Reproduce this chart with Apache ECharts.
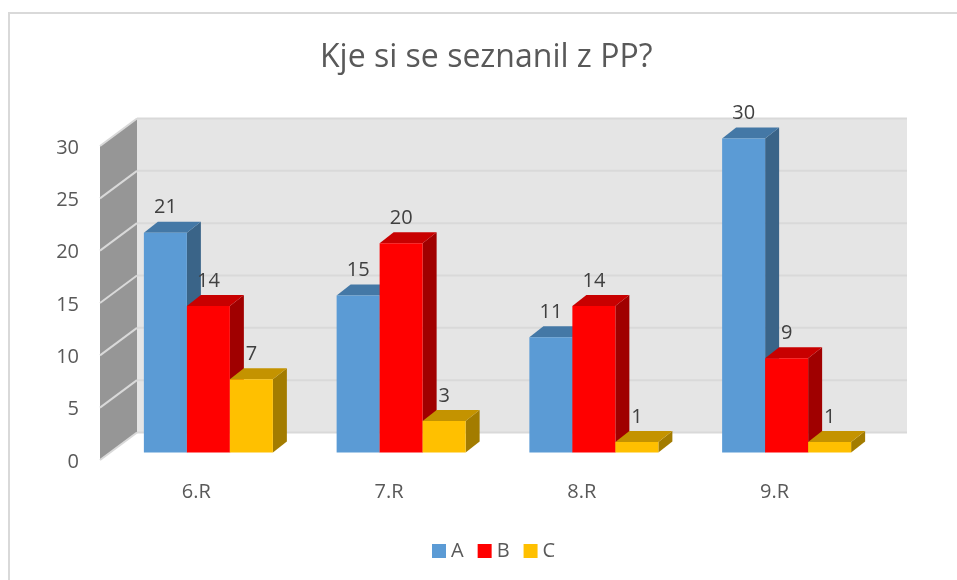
<!DOCTYPE html>
<html>
<head>
<meta charset="utf-8">
<style>html,body{margin:0;padding:0;background:#fff}#c{width:957px;height:580px}</style>
<script src="https://cdn.jsdelivr.net/npm/echarts@6/dist/echarts.min.js"></script>
</head>
<body>
<div id="c"></div>
<script>
const titleText = 'Kje si se seznanil z PP?';
const categories = ['6.R', '7.R', '8.R', '9.R'];
const seriesA = [21, 15, 11, 30];
const seriesB = [14, 20, 14, 9];
const seriesC = [7, 3, 1, 1];
const ticks = [0, 5, 10, 15, 20, 25, 30];

const FONT = '"Open Sans", sans-serif';
const wallDx = 37, wallDy = -27.5;
const barW = 43, barDx = 14, barDy = -11, barShiftX = 12, barShiftY = -7.5;

function wallItem(params, api) {
  const v = api.value(1);
  const cs = params.coordSys;
  const p = api.coord([0, v]);
  const left = cs.x, y = p[1];
  const right = cs.x + cs.width;
  const backL = left + wallDx, backY = y + wallDy, backR = right + wallDx - 1;
  const children = [];
  if (params.dataIndex === 0) {
    const topY = api.coord([0, ticks[ticks.length - 1]])[1];
    children.push({ type: 'rect', shape: { x: backL, y: topY + wallDy, width: backR - backL, height: y - topY },
      style: { fill: '#E5E5E5' } });
    children.push({ type: 'polygon', shape: { points: [[left, y], [backL, backY], [backL, topY + wallDy], [left, topY]] },
      style: { fill: '#969696' } });
  }
  children.push({ type: 'line', shape: { x1: backL, y1: backY, x2: backR, y2: backY },
    style: { stroke: '#D9D9D9', lineWidth: 2 } });
  children.push({ type: 'line', shape: { x1: left, y1: y, x2: backL, y2: backY },
    style: { stroke: '#D9D9D9', lineWidth: 2 } });
  return { type: 'group', children };
}

function barRender(offset, front, top, side) {
  return function (params, api) {
    const c = api.coord([api.value(0), api.value(1)]);
    const b = api.coord([api.value(0), 0]);
    const x0 = c[0] + barShiftX + (offset - 1.5) * barW;
    const x1 = x0 + barW;
    const yT = c[1] + barShiftY, yB = b[1] + barShiftY;
    return {
      type: 'group',
      children: [
        { type: 'polygon', shape: { points: [[x1, yT], [x1 + barDx, yT + barDy], [x1 + barDx, yB + barDy], [x1, yB]] }, style: { fill: side } },
        { type: 'polygon', shape: { points: [[x0, yT], [x0 + barDx, yT + barDy], [x1 + barDx, yT + barDy], [x1, yT]] }, style: { fill: top } },
        { type: 'rect', shape: { x: x0, y: yT, width: barW, height: yB - yT }, style: { fill: front } },
        { type: 'text', style: { text: String(api.value(1)), x: x0 + barW / 2, y: yT - 25, align: 'center', verticalAlign: 'middle',
            fill: '#404040', font: '20px ' + FONT } }
      ]
    };
  };
}

function barSeries(name, values, offset, front, top, side) {
  return {
    name, type: 'custom', coordinateSystem: 'cartesian2d', z: 3,
    itemStyle: { color: front },
    encode: { x: 0, y: 1 },
    data: values.map((v, i) => [i, v]),
    renderItem: barRender(offset, front, top, side),
    clip: false
  };
}

const chart = echarts.init(document.getElementById('c'), null, { renderer: 'canvas' });
chart.setOption({
  animation: false,
  backgroundColor: '#fff',
  title: { text: titleText, left: 315, top: 37,
    textStyle: { fontFamily: FONT, fontSize: 32, fontWeight: 'normal', color: '#595959' } },
  legend: { data: ['A', 'B', 'C'], left: 427, top: 536, icon: 'rect', itemWidth: 14, itemHeight: 14, itemGap: 14,
    textStyle: { fontFamily: FONT, fontSize: 20, color: '#595959' } },
  grid: { left: 100, top: 146, width: 771, height: 314 },
  xAxis: { type: 'category', data: categories, axisLine: { show: false }, axisTick: { show: false }, splitLine: { show: false },
    axisLabel: { fontFamily: FONT, fontSize: 20, color: '#595959', margin: 22 } },
  yAxis: { type: 'value', min: 0, max: 30, interval: 5, axisLine: { show: false }, axisTick: { show: false }, splitLine: { show: false },
    axisLabel: { margin: 21, formatter: '{v|{value}}',
      rich: { v: { fontFamily: FONT, fontSize: 20, color: '#595959', padding: [4, 0, 0, 0] } } } },
  graphic: [
    { type: 'polyline', z: 0, silent: true, shape: { points: [[9, 580], [9, 13], [957, 13]] }, style: { stroke: '#D9D9D9', lineWidth: 2, fill: null } }
  ],
  series: [
    { name: 'walls', type: 'custom', coordinateSystem: 'cartesian2d', z: 1, silent: true, clip: false,
      encode: { x: 0, y: 1 }, data: ticks.map(t => [0, t]), renderItem: wallItem },
    barSeries('A', seriesA, 0, '#5B9BD5', '#4478A6', '#3A6488'),
    barSeries('B', seriesB, 1, '#FF0000', '#C80000', '#A00000'),
    barSeries('C', seriesC, 2, '#FFC000', '#C49300', '#A37C00')
  ]
});
</script>
</body>
</html>
